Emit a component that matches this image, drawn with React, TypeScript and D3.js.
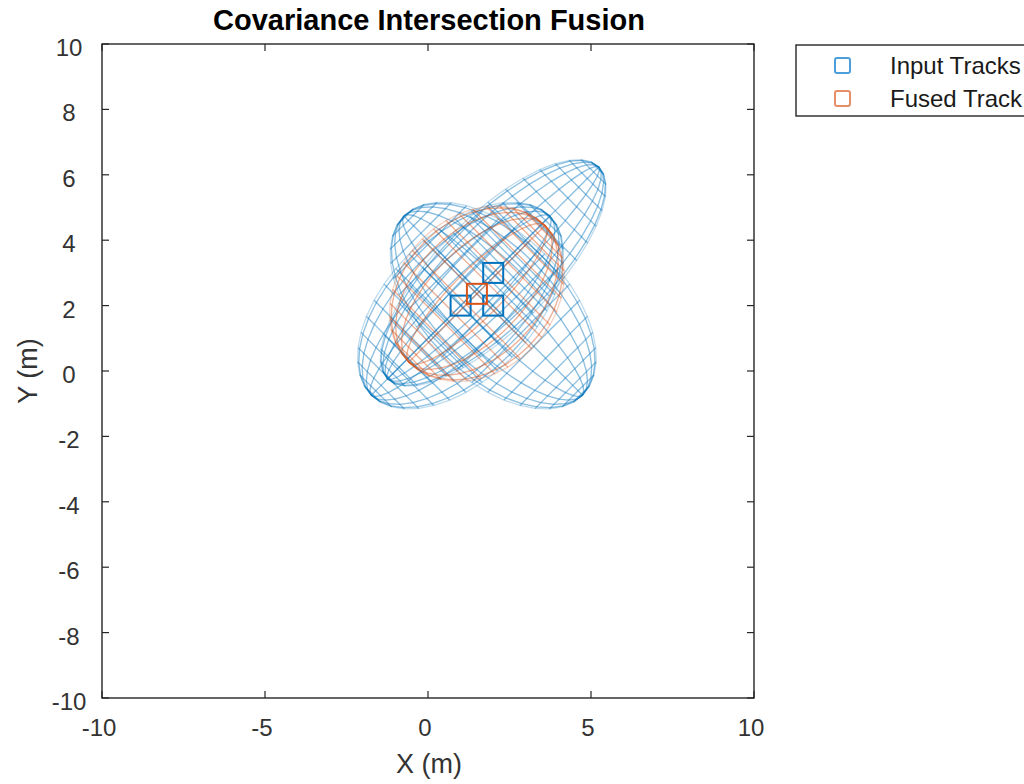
import * as d3 from "d3";

// input tracks (position + 2D covariance)
const trackX = [1, 2, 2];
const trackY = [2, 3, 2];
const trackVarX = [10, 12, 10];
const trackVarY = [10, 12, 10];
const trackCovXY = [5, 9, -5];

// fused track
const fusedX = [1.5];
const fusedY = [2.36];
const fusedVarX = [7.19];
const fusedVarY = [7.19];
const fusedCovXY = [1.55];

const xTicks = [-10, -5, 0, 5, 10];
const yTicks = [-10, -8, -6, -4, -2, 0, 2, 4, 6, 8, 10];

const BLUE = "#0072BD";
const ORANGE = "#D95319";
const AX = "#262626";
const FONT = "'Liberation Sans', Arial, Helvetica, sans-serif";
const N = 20; // sphere mesh resolution

const W = 1024;
const H = 784;
const plot = { left: 102, right: 754, top: 44, bottom: 698 };

const x = d3.scaleLinear().domain([-10, 10]).range([plot.left, plot.right]);
const y = d3.scaleLinear().domain([-10, 10]).range([plot.bottom, plot.top]);

// projected lat/long mesh of a covariance ellipsoid (pole along the major axis)
function ellipsoidMesh(cx: number, cy: number, sxx: number, syy: number, sxy: number) {
  const tr = sxx + syy;
  const det = sxx * syy - sxy * sxy;
  const disc = Math.sqrt(Math.max(tr * tr / 4 - det, 0));
  const a = Math.sqrt(tr / 2 + disc);
  const b = Math.sqrt(tr / 2 - disc);
  const ang = 0.5 * Math.atan2(2 * sxy, sxx - syy);
  const e1 = [Math.cos(ang), Math.sin(ang)];
  const e2 = [-Math.sin(ang), Math.cos(ang)];
  const pt = (phi: number, th: number): [number, number] => {
    const u = a * Math.sin(phi);
    const v = b * Math.cos(phi) * Math.sin(th);
    return [cx + u * e1[0] + v * e2[0], cy + u * e1[1] + v * e2[1]];
  };
  const phis = d3.range(N + 1).map((i) => -Math.PI / 2 + (i * Math.PI) / N);
  const ths = d3.range(N + 1).map((j) => -Math.PI + (2 * Math.PI * j) / N);
  const lines: [number, number][][] = [];
  // latitude circles, split in quarters so overlapping halves stack like the surface edges
  const q = N / 4;
  phis.forEach((p) => {
    for (let k = 0; k < 4; k++) {
      lines.push(ths.slice(k * q, (k + 1) * q + 1).map((t) => pt(p, t)));
    }
  });
  // longitude meridians (seam drawn once)
  ths.slice(0, N).forEach((t) => lines.push(phis.map((p) => pt(p, t))));
  return lines;
}

const line = d3
  .line<[number, number]>()
  .x((d) => x(d[0]))
  .y((d) => y(d[1]));

function Mesh({ lines, color }: { lines: [number, number][][]; color: string }) {
  return (
    <g fill="none" stroke={color} strokeWidth={1.3} strokeOpacity={0.26}>
      {lines.map((l, i) => (
        <path key={i} d={line(l) || ""} />
      ))}
    </g>
  );
}

export default function App() {
  const trackMeshes = trackX.map((_, i) =>
    ellipsoidMesh(trackX[i], trackY[i], trackVarX[i], trackVarY[i], trackCovXY[i])
  );
  const fusedMeshes = fusedX.map((_, i) =>
    ellipsoidMesh(fusedX[i], fusedY[i], fusedVarX[i], fusedVarY[i], fusedCovXY[i])
  );
  const sq = 20;
  const tick = 7;

  return (
    <svg
      width={W}
      height={H}
      style={{ position: "absolute", left: 0, top: 0, background: "#fff" }}
      fontFamily={FONT}
    >
      <rect x={0} y={0} width={W} height={H} fill="#fff" />

      {/* covariance meshes */}
      {trackMeshes.map((m, i) => (
        <Mesh key={"t" + i} lines={m} color={BLUE} />
      ))}
      {fusedMeshes.map((m, i) => (
        <Mesh key={"f" + i} lines={m} color={ORANGE} />
      ))}

      {/* track markers */}
      {trackX.map((_, i) => (
        <rect
          key={"ts" + i}
          x={x(trackX[i]) - sq / 2}
          y={y(trackY[i]) - sq / 2}
          width={sq}
          height={sq}
          fill="none"
          stroke={BLUE}
          strokeWidth={2}
        />
      ))}
      {fusedX.map((_, i) => (
        <rect
          key={"fs" + i}
          x={x(fusedX[i]) - sq / 2}
          y={y(fusedY[i]) - sq / 2}
          width={sq}
          height={sq}
          fill="none"
          stroke={ORANGE}
          strokeWidth={2}
        />
      ))}

      {/* axes box and ticks */}
      <rect
        x={plot.left}
        y={plot.top}
        width={plot.right - plot.left}
        height={plot.bottom - plot.top}
        fill="none"
        stroke={AX}
        strokeWidth={1.4}
      />
      <g stroke={AX} strokeWidth={1.2}>
        {xTicks.map((t) => (
          <g key={"xt" + t}>
            <line x1={x(t)} x2={x(t)} y1={plot.bottom} y2={plot.bottom - tick} />
            <line x1={x(t)} x2={x(t)} y1={plot.top} y2={plot.top + tick} />
          </g>
        ))}
        {yTicks.map((t) => (
          <g key={"yt" + t}>
            <line x1={plot.left} x2={plot.left + tick} y1={y(t)} y2={y(t)} />
            <line x1={plot.right} x2={plot.right - tick} y1={y(t)} y2={y(t)} />
          </g>
        ))}
      </g>
      <g fill="#333" fontSize={24}>
        {xTicks.map((t) => (
          <text key={"xl" + t} x={x(t) - 3} y={plot.bottom + 38} textAnchor="middle">
            {t}
          </text>
        ))}
        {yTicks.map((t) => (
          <text key={"yl" + t} x={69} y={y(t) + 12} textAnchor="middle">
            {t}
          </text>
        ))}
      </g>

      {/* labels */}
      <text x={429} y={30} textAnchor="middle" fontSize={29} fontWeight="bold" fill="#000">
        Covariance Intersection Fusion
      </text>
      <text x={429} y={773} textAnchor="middle" fontSize={27} fill="#333">
        X (m)
      </text>
      <text
        transform={`translate(37, ${y(0)}) rotate(-90)`}
        textAnchor="middle"
        fontSize={27}
        fill="#333"
      >
        Y (m)
      </text>

      {/* legend */}
      <rect x={796} y={45} width={240} height={71} fill="#fff" stroke={AX} strokeWidth={1.4} />
      <rect x={835} y={58} width={15} height={15} rx={2} fill="none" stroke="#4D9FDB" strokeWidth={2} />
      <rect x={835} y={91} width={15} height={15} rx={2} fill="none" stroke="#E88E67" strokeWidth={2} />
      <text x={890} y={74} fontSize={24} fill="#1a1a1a">
        Input Tracks
      </text>
      <text x={890} y={107} fontSize={24} fill="#1a1a1a">
        Fused Track
      </text>
    </svg>
  );
}
